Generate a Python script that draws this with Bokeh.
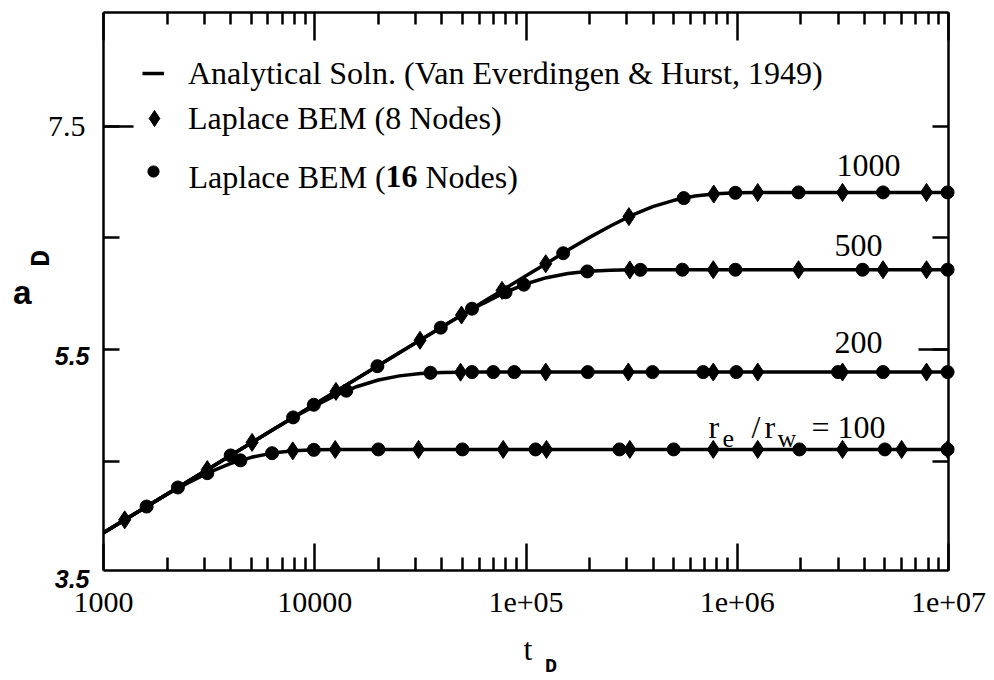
import numpy as np
from bokeh.plotting import figure
from bokeh.models import FixedTicker, LogAxis, LinearAxis, Label, Legend, LegendItem, Range1d
from bokeh.embed import file_html
from bokeh.resources import INLINE

# ---- axis ticks -------------------------------------------------------
x_tick_values = [1e3, 1e4, 1e5, 1e6, 1e7]
x_tick_labels = ["1000", "10000", "1e+05", "1e+06", "1e+07"]
y_tick_values = [4.5, 5.5, 6.5, 7.5]

# ---- analytical solution (Van Everdingen & Hurst), a_D vs t_D ----------
t_re100 = [1000, 1260, 1585, 2000, 2510, 3160, 3980, 5010, 6310, 7940, 10000, 12600, 15800, 1e7]
a_re100 = [3.858, 3.974, 4.088, 4.203, 4.304, 4.399, 4.477, 4.534, 4.572, 4.592, 4.601, 4.604, 4.605, 4.605]

t_re200 = [1000, 4000, 5020, 6320, 8000, 10000, 12600, 15900, 20000, 25200, 31700, 40000, 50000, 63000, 1e7]
a_re200 = [3.858, 4.551, 4.665, 4.781, 4.895, 4.995, 5.091, 5.169, 5.227, 5.264, 5.285, 5.294, 5.297, 5.298, 5.298]

t_re500 = [1000, 25000, 31500, 39600, 50000, 62800, 79000, 99500, 125000, 158000, 198000, 250000, 315000, 396000, 1e7]
a_re500 = [3.858, 5.468, 5.583, 5.698, 5.812, 5.914, 6.009, 6.087, 6.144, 6.182, 6.202, 6.211, 6.214, 6.215, 6.215]

t_re1000 = [1000, 100000, 126000, 158000, 200000, 251000, 316000, 398000, 501000, 631000, 794000, 1000000, 1260000, 1580000, 1e7]
a_re1000 = [3.858, 6.161, 6.276, 6.391, 6.505, 6.607, 6.702, 6.780, 6.837, 6.875, 6.895, 6.904, 6.907, 6.908, 6.908]

# ---- Laplace BEM, 8 nodes (diamonds) -----------------------------------
bem8_t_re100 = [7870, 12500, 31000, 78000, 125000, 310000, 770000, 1250000, 3150000, 6000000, 9900000]
bem8_a_re100 = [4.592, 4.604, 4.605, 4.605, 4.605, 4.605, 4.605, 4.605, 4.605, 4.605, 4.605]
bem8_t_re200 = [49000, 124000, 305000, 770000, 1250000, 3150000, 7870000]
bem8_a_re200 = [5.297, 5.298, 5.298, 5.298, 5.298, 5.298, 5.298]
bem8_t_re500 = [310000, 770000, 1950000, 4900000, 7870000]
bem8_a_re500 = [6.213, 6.215, 6.215, 6.215, 6.215]
bem8_t_re1000 = [1260, 3100, 5050, 12600, 31500, 49500, 77000, 124000, 307000, 774000, 1250000, 3150000, 7870000]
bem8_a_re1000 = [3.974, 4.424, 4.668, 5.125, 5.583, 5.809, 6.030, 6.269, 6.691, 6.893, 6.907, 6.908, 6.908]

# ---- Laplace BEM, 16 nodes (dots) ---------------------------------------
bem16_t_re100 = [3100, 4450, 6280, 9900, 20000, 50000, 111000, 277000, 500000, 1970000, 5000000, 9900000]
bem16_a_re100 = [4.392, 4.507, 4.571, 4.601, 4.605, 4.605, 4.605, 4.605, 4.605, 4.605, 4.605, 4.605]
bem16_t_re200 = [14100, 35300, 55500, 70000, 88000, 196000, 397000, 690000, 990000, 3000000, 4900000, 9900000]
bem16_a_re200 = [5.131, 5.291, 5.298, 5.298, 5.298, 5.298, 5.298, 5.298, 5.298, 5.298, 5.298, 5.298]
bem16_t_re500 = [80000, 97700, 195000, 348000, 550000, 980000, 3920000, 9900000]
bem16_a_re500 = [6.013, 6.081, 6.200, 6.214, 6.215, 6.215, 6.215, 6.215]
bem16_t_re1000 = [1600, 2250, 4000, 7900, 9900, 19800, 39500, 55500, 150000, 558000, 980000, 1950000, 4900000, 9900000]
bem16_a_re1000 = [4.093, 4.264, 4.551, 4.892, 5.005, 5.351, 5.696, 5.866, 6.363, 6.857, 6.904, 6.908, 6.908, 6.908]

SERIF = "Liberation Serif"
W, H = 994, 680

# Plot box in canvas pixels; the frame covers the whole canvas and the
# four axes are pinned to the box edges so that outside texts stay visible.
BOX_L, BOX_R, BOX_T, BOX_B = 103, 948, 12, 570
T_MIN, T_MAX = 1e3, 1e7
A_MIN, A_MAX = 3.52, 8.52
px_per_decade = (BOX_R - BOX_L) / (np.log10(T_MAX) - np.log10(T_MIN))
px_per_unit = (BOX_B - BOX_T) / (A_MAX - A_MIN)
x_lo = 10 ** (np.log10(T_MIN) - BOX_L / px_per_decade)
x_hi = 10 ** (np.log10(T_MAX) + (W - BOX_R) / px_per_decade)
y_lo = A_MIN - (H - BOX_B) / px_per_unit
y_hi = A_MAX + BOX_T / px_per_unit

p = figure(width=W, height=H, x_axis_type="log", x_axis_location=None, y_axis_location=None,
           x_range=Range1d(x_lo, x_hi), y_range=Range1d(y_lo, y_hi),
           output_backend="svg", toolbar_location=None, min_border=0,
           background_fill_color="white", border_fill_color="white",
           outline_line_color=None)
p.grid.visible = False

minor_x = [m * d for d in (1e3, 1e4, 1e5, 1e6) for m in range(2, 10)]


def style_x_axis(ax, tick_len, minor_len):
    ax.ticker = FixedTicker(ticks=x_tick_values, minor_ticks=minor_x)
    ax.bounds = (T_MIN, T_MAX)
    ax.axis_line_width = 2.5
    ax.major_tick_in = tick_len
    ax.major_tick_out = 0
    ax.minor_tick_in = minor_len
    ax.minor_tick_out = 0
    ax.major_tick_line_width = 2.5
    ax.minor_tick_line_width = 2.5


def style_y_axis(ax, ticks, tick_len, with_line=True):
    ax.ticker = FixedTicker(ticks=ticks)
    ax.bounds = (A_MIN, A_MAX)
    ax.axis_line_width = 2.5
    if not with_line:
        ax.axis_line_color = None
    ax.major_tick_in = tick_len
    ax.major_tick_out = 0
    ax.minor_tick_line_color = None
    ax.major_tick_line_width = 2.5


def hide_labels(ax):
    ax.major_label_text_font_size = "1px"
    ax.major_label_text_color = None


# bottom axis with labels
xb = LogAxis(fixed_location=A_MIN)
style_x_axis(xb, 27, 13)
xb.major_label_overrides = dict(zip(x_tick_values, x_tick_labels))
xb.major_label_text_font = SERIF
xb.major_label_text_font_size = "30px"
xb.major_label_text_color = "black"
xb.major_label_standoff = 22
p.add_layout(xb, "below")

# top axis, ticks only
xt = LogAxis(fixed_location=A_MAX)
style_x_axis(xt, 28, 12)
hide_labels(xt)
p.add_layout(xt, "above")

# left axis
yl = LinearAxis(fixed_location=T_MIN)
style_y_axis(yl, y_tick_values, 16)
yl.major_label_overrides = {4.5: "", 5.5: "", 6.5: "", 7.5: "7.5"}
yl.major_label_text_font = SERIF
yl.major_label_text_font_size = "30px"
yl.major_label_text_color = "black"
yl.major_label_standoff = 18
p.add_layout(yl, "left")

# longer tick at 7.5 on the left side
yl_long = LinearAxis(fixed_location=T_MIN)
style_y_axis(yl_long, [7.5], 30, with_line=False)
hide_labels(yl_long)
p.add_layout(yl_long, "left")

# right axis, ticks only (the 5.5 tick is longer)
yr = LinearAxis(fixed_location=T_MAX)
style_y_axis(yr, y_tick_values, 16)
hide_labels(yr)
p.add_layout(yr, "right")

yr_long = LinearAxis(fixed_location=T_MAX)
style_y_axis(yr_long, [5.5], 30, with_line=False)
hide_labels(yr_long)
p.add_layout(yr_long, "right")

# ---- curves and markers ----------------------------------------------
curve_sets = [(t_re100, a_re100), (t_re200, a_re200), (t_re500, a_re500), (t_re1000, a_re1000)]
line_rs = [p.line(t, a, line_color="black", line_width=3.5) for t, a in curve_sets]

bem8_sets = [(bem8_t_re100, bem8_a_re100), (bem8_t_re200, bem8_a_re200),
             (bem8_t_re500, bem8_a_re500), (bem8_t_re1000, bem8_a_re1000)]
dia_rs = [p.scatter(t, a, marker="diamond", size=18, fill_color="black", line_color="black")
          for t, a in bem8_sets]

bem16_sets = [(bem16_t_re100, bem16_a_re100), (bem16_t_re200, bem16_a_re200),
              (bem16_t_re500, bem16_a_re500), (bem16_t_re1000, bem16_a_re1000)]
dot_rs = [p.scatter(t, a, marker="circle", size=13, fill_color="black", line_color="black")
          for t, a in bem16_sets]

# ---- legend (locations are px from the canvas bottom-left) -------------
common = dict(padding=0, margin=0, spacing=0, border_line_color=None,
              background_fill_alpha=0, label_text_font=SERIF,
              label_text_font_size="32px", label_text_color="black")

p.add_layout(Legend(items=[LegendItem(label="Analytical Soln. (Van Everdingen & Hurst, 1949)",
                                      renderers=[line_rs[3]])],
                    location=(142, H - 92), glyph_width=22, glyph_height=38,
                    label_height=38, label_standoff=24, **common))
p.add_layout(Legend(items=[LegendItem(label="Laplace BEM (8 Nodes)", renderers=[dia_rs[3]])],
                    location=(134, H - 138), glyph_width=40, glyph_height=40,
                    label_height=40, label_standoff=14, **common))
p.add_layout(Legend(items=[LegendItem(label="·", renderers=[dot_rs[3]])],
                    location=(139, H - 189), glyph_width=28, glyph_height=28,
                    label_height=28, label_standoff=14, label_text_alpha=0, **common))

row3_y = 7.05
for txt, dx, style in [("Laplace BEM (", 85, "normal"), ("16", 282, "bold"), ("Nodes)", 322, "normal")]:
    p.add_layout(Label(x=T_MIN, y=row3_y, x_offset=dx, text=txt, text_font=SERIF,
                       text_font_size="32px", text_font_style=style,
                       text_align="left", text_baseline="middle", text_color="black"))

# ---- curve annotations ------------------------------------------------
for txt, x, y in [("1000", 4.18e6, 7.149), ("500", 3.75e6, 6.432), ("200", 3.75e6, 5.563)]:
    p.add_layout(Label(x=x, y=y, text=txt, text_font=SERIF, text_font_size="32px",
                       text_align="center", text_baseline="middle", text_color="black"))

re_x, re_y = 7.31e5, 4.81
for txt, dx, dy, size in [("r", 0, 0, "32px"), ("e", 14, -12, "26px"), ("/", 43, 0, "32px"),
                          ("r", 56, 0, "32px"), ("w", 69, -12, "26px"), ("= 100", 103, 0, "32px")]:
    p.add_layout(Label(x=re_x, y=re_y, x_offset=dx, y_offset=dy, text=txt, text_font=SERIF,
                       text_font_size=size, text_align="left", text_baseline="middle",
                       text_color="black"))

# ---- y tick labels in bold sans, axis titles ------------------------------
centered = dict(text_align="center", text_baseline="middle", text_color="black")

for txt, y in [("5.5", 5.5), ("3.5", 3.5)]:
    p.add_layout(Label(x=T_MIN, y=y, x_offset=-14, y_offset=-6, text=txt,
                       text_font="Liberation Sans", text_font_size="25px",
                       text_font_style="bold italic", text_align="right",
                       text_baseline="middle", text_color="black"))

p.add_layout(Label(x=1e5, y=A_MIN, x_offset=2, y_offset=-78, text="t", text_font=SERIF,
                   text_font_size="32px", **centered))
p.add_layout(Label(x=1e5, y=A_MIN, x_offset=25, y_offset=-96, text="D",
                   text_font="Liberation Mono", text_font_size="20px", text_font_style="bold",
                   **centered))
p.add_layout(Label(x=T_MIN, y=5.99, x_offset=-81, text="a", text_font="Liberation Mono",
                   text_font_size="34px", text_font_style="bold", **centered))
p.add_layout(Label(x=T_MIN, y=6.316, x_offset=-62, text="D", angle=np.pi / 2,
                   text_font="Liberation Mono", text_font_size="28px", text_font_style="bold",
                   **centered))

open("out.html", "w").write(file_html(p, INLINE))
